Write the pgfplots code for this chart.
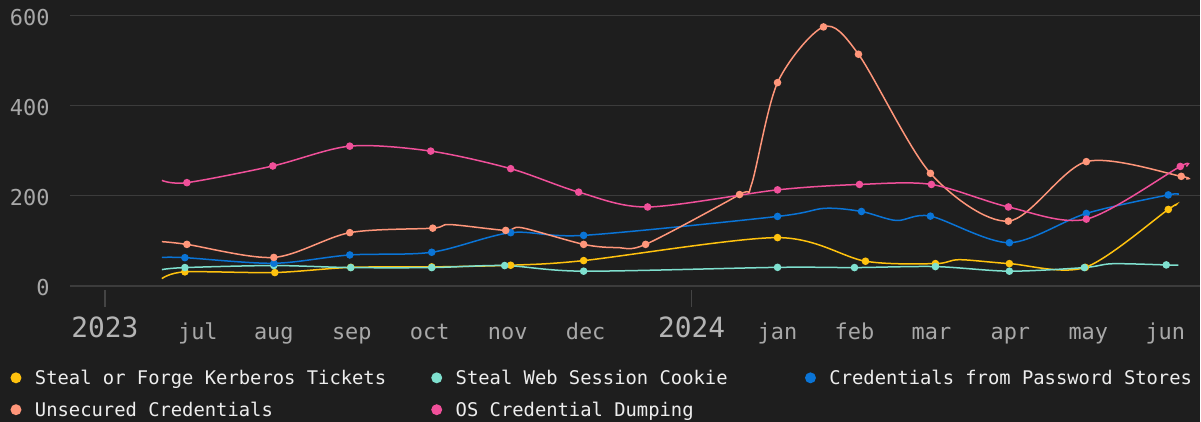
\documentclass[border=0pt]{standalone}
\usepackage{pgfplots}
\pgfplotsset{compat=1.18}
\usepackage{fontspec}
\setmainfont{DejaVu Sans Mono}

\definecolor{bg}{HTML}{1E1E1E}
\definecolor{gridc}{HTML}{3C3C3C}
\definecolor{tickc}{HTML}{444444}
\definecolor{labc}{HTML}{A8A8A8}
\definecolor{yearc}{HTML}{B4B4B4}
\definecolor{legc}{HTML}{EDEDED}
\definecolor{kerb}{HTML}{FFC20E}
\definecolor{cookie}{HTML}{7FE0CF}
\definecolor{pwstore}{HTML}{0A74D6}
\definecolor{unsec}{HTML}{FF967A}
\definecolor{osdump}{HTML}{F0509A}

% x is the horizontal pixel position of the original chart
\begin{document}
\begin{tikzpicture}
\fill[bg] (0,0) rectangle (1201bp,422bp);
\begin{axis}[
    at={(70bp,136bp)}, anchor=south west,
    scale only axis, width=1131bp, height=270.5bp,
    xmin=70, xmax=1201, ymin=0, ymax=600,
    clip=false,
    axis line style={draw=none},
    ytick={0,200,400,600},
    ymajorgrids,
    grid style={gridc, line width=1.5bp},
    ytick pos=left, xtick pos=bottom,
    ytick style={draw=none},
    tick align=outside,
    major tick length=17bp,
    xtick={105,692}, xticklabels={2023,2024},
    xtick style={draw=tickc, line width=1.5bp, yshift=-4bp},
    /pgf/number format/assume math mode=true,
    yticklabel style={font=\fontsize{22}{26}\selectfont, text=labc, anchor=east, xshift=0bp, yshift=-2bp},
    xticklabel style={font=\fontsize{28}{32}\selectfont, text=yearc, anchor=base, yshift=-35bp},
    extra x ticks={198,274,352,430,508,586,778,855,932,1011,1089,1166},
    extra x tick labels={jul,aug,sep,oct,nov,dec,jan,feb,mar,apr,may,jun},
    extra x tick style={major tick length=0pt, tick style={draw=none},
        xticklabel style={font=\fontsize{22}{26}\selectfont, text=labc, anchor=base, yshift=-19bp}},
    every axis plot/.append style={line width=1.5bp, smooth, mark=*, mark size=3bp,
        mark options={draw=none}},
    legend columns=3,
    legend cell align=left,
    legend image code/.code={
        \path[draw=none,fill=none] (-6bp,-5.5bp) rectangle (19bp,5.5bp);
        \fill[#1,draw=none] (0bp,0.5bp) circle (5.5bp);},
    legend style={at={(rel axis cs:-0.05305,-0.3128)}, anchor=north west,
        draw=none, fill=none, inner sep=0pt, outer sep=0pt,
        column sep=0pt, row sep=16bp,
        nodes={inner sep=0pt, text=legc, font=\fontsize{18.9}{22}\selectfont}},
]
\addplot[kerb, mark indices={2,3,4,5,6,7,8,9,10,12,13,14}] coordinates {
    (162,16) (185,31) (275,29.5) (351,41) (432,42) (511,45.7) (584,56)
    (778,107) (866,54.6) (936,49.3) (960,58) (1010,49.3)
    (1086,41) (1169,169.5) (1176,178)};
\addlegendentry{\makebox[396bp][l]{Steal or Forge Kerberos Tickets}}
\addplot[cookie, mark indices={2,3,4,5,6,7,8,9,10,11,12,14}] coordinates {
    (162,36) (185,40.5) (274,45) (351,40.5) (432,40.5) (505,45) (584,32.5)
    (778,41) (855,40.5) (936,42.7) (1010,32.5) (1085,40.5) (1113,49)
    (1167,46.4) (1179,45.7)};
\addlegendentry{\makebox[349bp][l]{Steal Web Session Cookie}}
\addplot[pwstore, mark indices={2,3,4,5,6,7,8,10,12,13,14,15}] coordinates {
    (162,63) (185,62.5) (274,50) (350,68.5) (432,74.5) (511,118) (584,112)
    (778,154) (825,172) (862,165) (897,145) (931,154.7)
    (1010,95.7) (1087,160.7) (1169,201.8) (1179,201.8)};
\addlegendentry{Credentials from Password Stores}
\addplot[unsec, mark indices={2,3,4,5,7,9,11,12,14,15,16,17,18,19,20}] coordinates {
    (162,98) (187,92) (274,63) (350,118) (433,128) (450,136) (506,123)
    (522,129) (584,92) (617,85) (646,92) (740,202.6) (752,225) (778,451)
    (824,574.6) (859,514) (931,249.7) (1009,143.6) (1087,275.6)
    (1182,243) (1187,237)};
\addlegendentry{Unsecured Credentials}
\addplot[osdump, mark indices={2,3,4,5,6,7,8,9,10,11,12,13,14}] coordinates {
    (162,234) (187,229) (273,266) (350,310) (431,299) (511,260) (579,208)
    (648,175) (778,213) (860,225) (932,225) (1009,175) (1087,148)
    (1181,265) (1187,265)};
\addlegendentry{OS Credential Dumping}
\end{axis}
\end{tikzpicture}
\end{document}
